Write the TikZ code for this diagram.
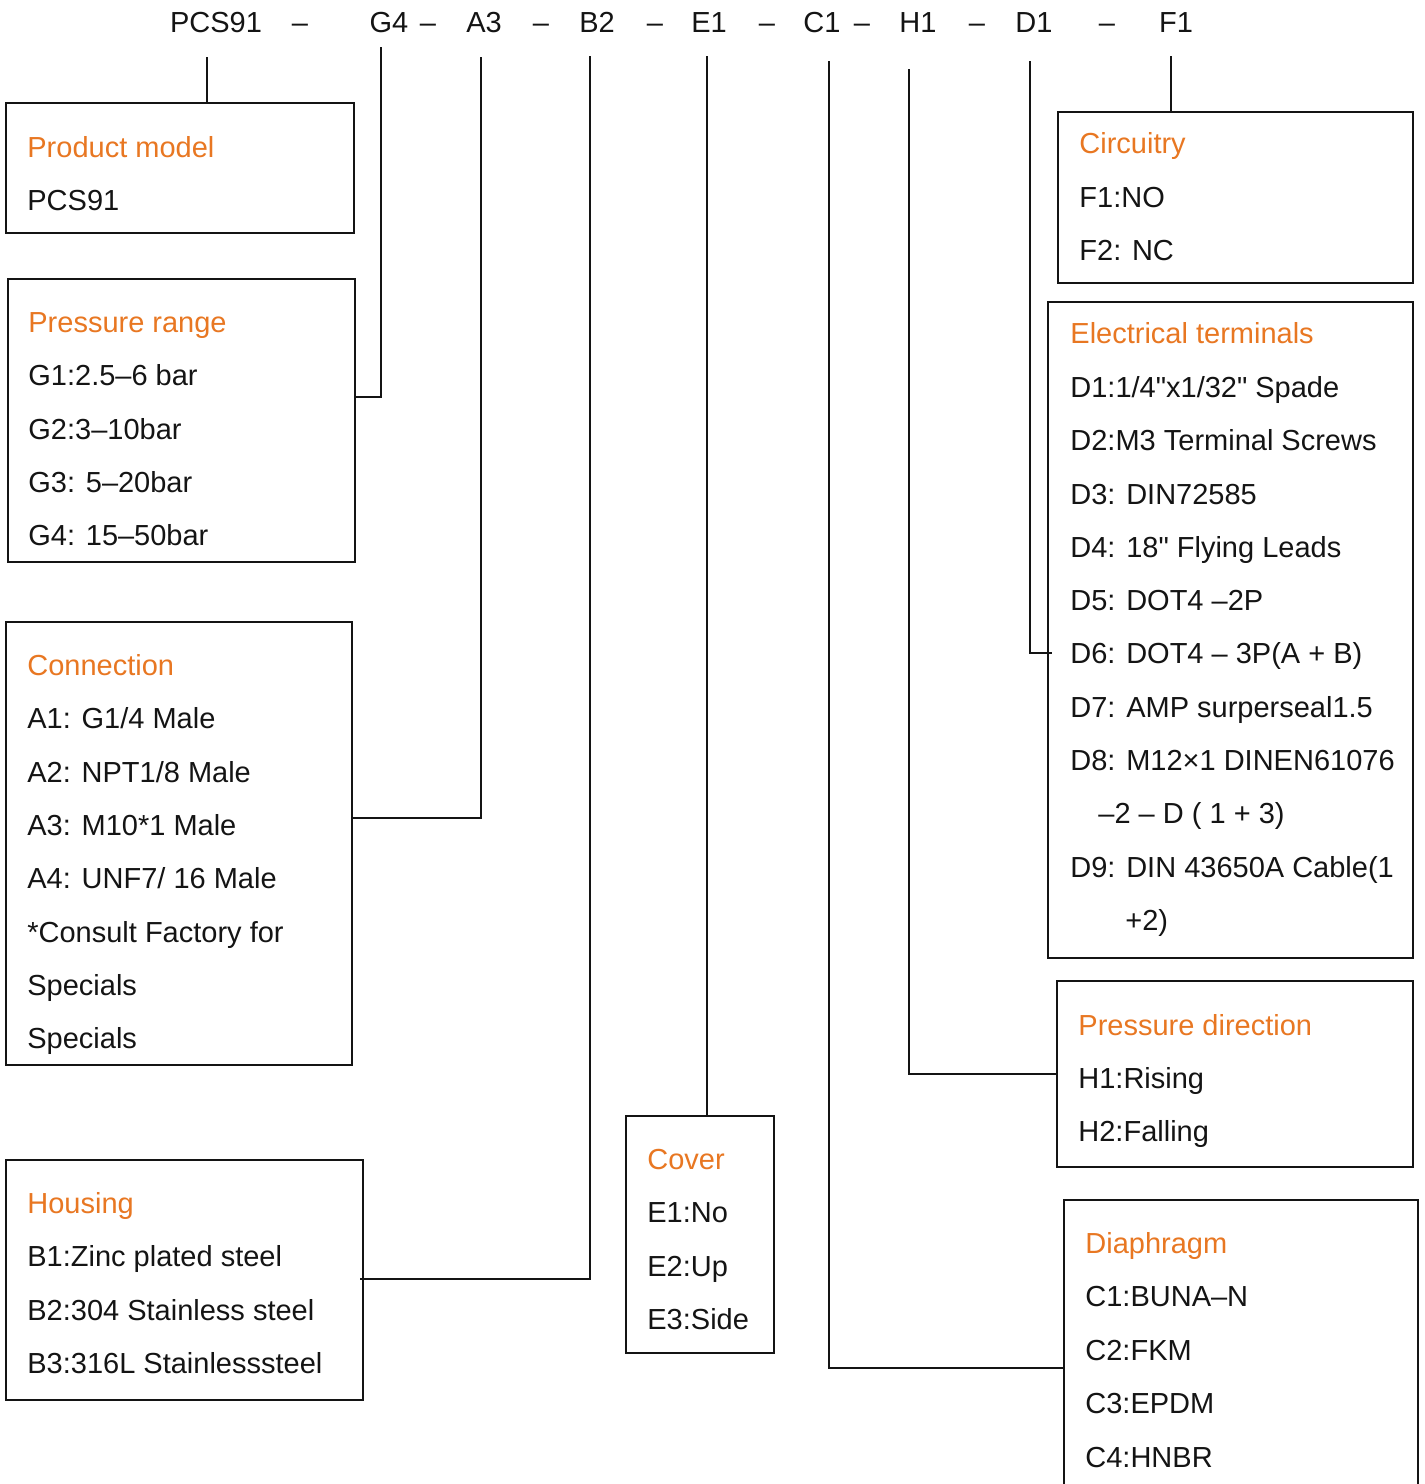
\documentclass[tikz,border=0pt]{standalone}
\usepackage{fontspec}
\setmainfont{Liberation Sans}[Ligatures=TeXOff]
\usetikzlibrary{fit}
\definecolor{ttlc}{RGB}{232,119,34}
\definecolor{ink}{RGB}{20,20,20}
\begin{document}
\begin{tikzpicture}[x=0.5pt,y=-0.5pt,
  box/.style={draw=ink, line width=1pt, inner sep=0pt},
  txt/.style={anchor=base west, inner sep=0pt, text=ink, font=\fontsize{14.5}{17}\selectfont},
  ttl/.style={txt, text=ttlc},
  hdr/.style={anchor=base, inner sep=0pt, text=ink, font=\fontsize{14.5}{17}\selectfont},
  conn/.style={draw=ink, line width=1pt}]
\useasboundingbox (0,0) rectangle (1425,1484);

% header
\node[hdr] (hP) at (216,32) {PCS91};
\node[hdr] (d1) at (300,32) {–};
\node[hdr] (hG) at (389,32) {G4};
\node[hdr] (d2) at (428,32) {–};
\node[hdr] (hA) at (484,32) {A3};
\node[hdr] (d3) at (541,32) {–};
\node[hdr] (hB) at (597,32) {B2};
\node[hdr] (d4) at (655,32) {–};
\node[hdr] (hE) at (709,32) {E1};
\node[hdr] (d5) at (767,32) {–};
\node[hdr] (hC) at (822,32) {C1};
\node[hdr] (d6) at (862,32) {–};
\node[hdr] (hH) at (918,32) {H1};
\node[hdr] (d7) at (977,32) {–};
\node[hdr] (hD) at (1034,32) {D1};
\node[hdr] (d8) at (1107,32) {–};
\node[hdr] (hF) at (1176,32) {F1};

% boxes
\node[box, fit={(6,103) (354,233)}] (pm) {};
\node[box, fit={(8,279) (355,562)}] (pr) {};
\node[box, fit={(6,622) (352,1065)}] (cn) {};
\node[box, fit={(6,1160) (363,1400)}] (hs) {};
\node[box, fit={(626,1116) (774,1353)}] (cv) {};
\node[box, fit={(1058,112) (1413,283)}] (ci) {};
\node[box, fit={(1048,302) (1413,958)}] (et) {};
\node[box, fit={(1057,981) (1413,1167)}] (pd) {};
\draw[box] (1064,1490) |- (1418,1200) -- (1418,1490);
\coordinate (dgL) at (1064,1368);

% Product model
\node[ttl] (pmT) at (27,157) {Product model};
\node[txt] (pm1) at (27,210) {PCS91};
% Pressure range
\node[ttl] (prT) at (28,332) {Pressure range};
\node[txt] (pr1) at (28,385) {G1:2.5–6 bar};
\node[txt] (pr2) at (28,439) {G2:3–10bar};
\node[txt] (pr3) at (28,492) {G3: 5–20bar};
\node[txt] (pr4) at (28,545) {G4: 15–50bar};
% Connection
\node[ttl] (cnT) at (27,675) {Connection};
\node[txt] (cn1) at (27,728) {A1: G1/4 Male};
\node[txt] (cn2) at (27,782) {A2: NPT1/8 Male};
\node[txt] (cn3) at (27,835) {A3: M10*1 Male};
\node[txt] (cn4) at (27,888) {A4: UNF7/ 16 Male};
\node[txt] (cn5) at (27,942) {*Consult Factory for};
\node[txt] (cn6) at (27,995) {Specials};
\node[txt] (cn7) at (27,1048) {Specials};
% Housing
\node[ttl] (hsT) at (27,1213) {Housing};
\node[txt] (hs1) at (27,1266) {B1:Zinc plated steel};
\node[txt] (hs2) at (27,1320) {B2:304 Stainless steel};
\node[txt] (hs3) at (27,1373) {B3:316L Stainlesssteel};
% Cover
\node[ttl] (cvT) at (647,1169) {Cover};
\node[txt] (cv1) at (647,1222) {E1:No};
\node[txt] (cv2) at (647,1276) {E2:Up};
\node[txt] (cv3) at (647,1329) {E3:Side};
% Circuitry
\node[ttl] (ciT) at (1079,153) {Circuitry};
\node[txt] (ci1) at (1079,207) {F1:NO};
\node[txt] (ci2) at (1079,260) {F2: NC};
% Electrical terminals
\node[ttl] (etT) at (1070,343) {Electrical terminals};
\node[txt] (et1) at (1070,397) {D1:1/4"x1/32" Spade};
\node[txt] (et2) at (1070,450) {D2:M3 Terminal Screws};
\node[txt] (et3) at (1070,504) {D3: DIN72585};
\node[txt] (et4) at (1070,557) {D4: 18" Flying Leads};
\node[txt] (et5) at (1070,610) {D5: DOT4 –2P};
\node[txt] (et6) at (1070,663) {D6: DOT4 – 3P(A + B)};
\node[txt] (et7) at (1070,717) {D7: AMP surperseal1.5};
\node[txt] (et8) at (1070,770) {D8: M12×1 DINEN61076};
\node[txt] (et8b) at (1098,823) {–2 – D ( 1 + 3)};
\node[txt] (et9) at (1070,877) {D9: DIN 43650A Cable(1};
\node[txt] (et9b) at (1125,930) {+2)};
% Pressure direction
\node[ttl] (pdT) at (1078,1035) {Pressure direction};
\node[txt] (pd1) at (1078,1088) {H1:Rising};
\node[txt] (pd2) at (1078,1141) {H2:Falling};
% Diaphragm
\node[ttl] (dgT) at (1085,1253) {Diaphragm};
\node[txt] (dg1) at (1085,1306) {C1:BUNA–N};
\node[txt] (dg2) at (1085,1360) {C2:FKM};
\node[txt] (dg3) at (1085,1413) {C3:EPDM};
\node[txt] (dg4) at (1085,1467) {C4:HNBR};

% connector ends
\coordinate (tP) at (207,57);
\coordinate (tG) at (381,47);
\coordinate (tA) at (481,57);
\coordinate (tB) at (590,56);
\coordinate (tE) at (707,56);
\coordinate (tC) at (829,61);
\coordinate (tH) at (909,69);
\coordinate (tD) at (1030,61);
\coordinate (tF) at (1171,56);
\coordinate (jG) at (355,397);
\coordinate (jA) at (352,818);
\coordinate (jB) at (360,1279);
\coordinate (jD) at (1052,653);
\coordinate (jH) at (1057,1074);

\draw[conn] (tP) -- (tP |- pm.north);
\draw[conn] (tG) |- (jG);
\draw[conn] (tA) |- (jA);
\draw[conn] (tB) |- (jB);
\draw[conn] (tE) -- (tE |- cv.north);
\draw[conn] (tC) |- (dgL);
\draw[conn] (tH) |- (jH);
\draw[conn] (tD) |- (jD);
\draw[conn] (tF) -- (tF |- ci.north);
\end{tikzpicture}
\end{document}
